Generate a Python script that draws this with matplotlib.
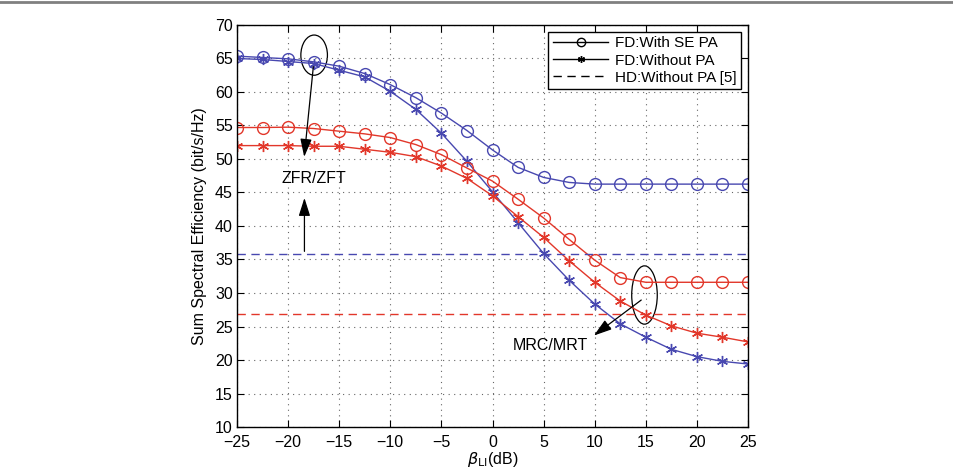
"""Sum spectral efficiency vs beta (MATLAB-style figure)."""
import matplotlib
matplotlib.use('Agg')
import matplotlib.pyplot as plt
from matplotlib.patches import Ellipse
from matplotlib.lines import Line2D

plt.rcParams['font.family'] = ['Liberation Sans', 'DejaVu Sans']

beta_db = [-25, -22.5, -20, -17.5, -15, -12.5, -10, -7.5, -5, -2.5, 0,
           2.5, 5, 7.5, 10, 12.5, 15, 17.5, 20, 22.5, 25]

zf_with_pa = [65.35, 65.15, 64.95, 64.5, 63.85, 62.75, 61.1, 59.15, 56.85, 54.25, 51.35,
              48.75, 47.25, 46.5, 46.25, 46.25, 46.25, 46.25, 46.25, 46.25, 46.25]
zf_without_pa = [65.0, 64.85, 64.55, 64.25, 63.25, 62.25, 60.1, 57.4, 53.85, 49.65, 45.1,
                 40.5, 35.9, 31.9, 28.35, 25.4, 23.4, 21.6, 20.5, 19.8, 19.4]
mr_with_pa = [54.7, 54.7, 54.75, 54.55, 54.15, 53.75, 53.2, 52.15, 50.65, 48.65, 46.7,
              44.0, 41.2, 38.0, 34.9, 32.3, 31.6, 31.6, 31.6, 31.6, 31.6]
mr_without_pa = [52.0, 52.0, 52.0, 51.9, 51.9, 51.45, 51.0, 50.35, 48.95, 47.1, 44.5,
                 41.4, 38.3, 34.8, 31.6, 28.8, 26.7, 25.1, 24.0, 23.4, 22.7]
hd_zf = 35.8
hd_mr = 26.8

xticks = [-25, -20, -15, -10, -5, 0, 5, 10, 15, 20, 25]
yticks = [10, 15, 20, 25, 30, 35, 40, 45, 50, 55, 60, 65, 70]

BLUE = '#4848b0'
RED = '#e2372a'
FS = 11.5

fig = plt.figure(figsize=(9.54, 4.68), dpi=100)
ax = fig.add_axes([0.2484, 0.0876, 0.5357, 0.859])

# top border line of the page
fig.add_artist(Line2D([0, 1], [0.995, 0.995], color='#808080', lw=2.0))

ax.plot(beta_db, zf_with_pa, color=BLUE, lw=1.0, marker='o', ms=8.5,
        mfc='none', mec=BLUE, mew=1.0)
ax.plot(beta_db, zf_without_pa, color=BLUE, lw=1.0, marker=(6, 2, 0), ms=8,
        mec=BLUE, mew=1.0)
ax.plot(beta_db, mr_with_pa, color=RED, lw=1.0, marker='o', ms=8.5,
        mfc='none', mec=RED, mew=1.0)
ax.plot(beta_db, mr_without_pa, color=RED, lw=1.0, marker=(6, 2, 0), ms=8,
        mec=RED, mew=1.0)
ax.axhline(hd_zf, color=BLUE, lw=1.0, ls=(0, (6, 4)))
ax.axhline(hd_mr, color=RED, lw=1.0, ls=(0, (6, 4)))

# legend (black proxies)
handles = [
    Line2D([], [], color='k', lw=1.0, marker='o', ms=6, mfc='none', mew=1.0),
    Line2D([], [], color='k', lw=1.0, marker=(6, 2, 0), ms=5, mew=1.0),
    Line2D([], [], color='k', lw=1.0, ls=(0, (6, 4))),
]
leg = ax.legend(handles, ['FD:With SE PA', 'FD:Without PA', 'HD:Without PA [5]'],
                loc='upper right', fontsize=11, fancybox=False, framealpha=1,
                edgecolor='k', handlelength=3.6, borderpad=0.3,
                labelspacing=0.2, handletextpad=0.45, borderaxespad=0.45)
leg.get_frame().set_linewidth(1.0)

# annotations
head = '-|>,head_length=1.1,head_width=0.35'
ax.add_patch(Ellipse((-17.45, 65.5), 2.6, 6.0, fill=False, ec='k', lw=0.9))
ax.annotate('', xy=(-18.45, 49.9), xytext=(-17.5, 64.2),
            arrowprops=dict(arrowstyle=head, color='k', lw=0.9))
ax.annotate('', xy=(-18.4, 44.6), xytext=(-18.4, 35.8),
            arrowprops=dict(arrowstyle=head, color='k', lw=0.9))
ax.text(-17.45, 47.15, 'ZFR/ZFT', ha='center', va='center', fontsize=FS)

ax.add_patch(Ellipse((14.87, 29.7), 2.5, 8.7, fill=False, ec='k', lw=0.9))
ax.annotate('', xy=(9.7, 23.4), xytext=(14.77, 29.2),
            arrowprops=dict(arrowstyle=head, color='k', lw=0.9))
ax.text(5.66, 22.1, 'MRC/MRT', ha='center', va='center', fontsize=FS)

ax.set_xlim(-25, 25)
ax.set_ylim(10, 70)
ax.set_xticks(xticks)
ax.set_yticks(yticks)
ax.set_xticklabels([str(t).replace('-', '\u2212') for t in xticks])
ax.tick_params(direction='in', top=True, right=True, labelsize=FS,
               length=5, width=0.8)
ax.tick_params(axis='x', pad=6)
ax.tick_params(axis='y', pad=3)
ax.grid(True, ls=(0, (1, 4)), color='#666666', lw=0.8)
for s in ax.spines.values():
    s.set_linewidth(1.0)

ax.set_ylabel('Sum Spectral Efficiency (bit/s/Hz)', fontsize=FS, labelpad=6)
ax.set_xlabel(r'$\beta_{\mathrm{LI}}$(dB)', fontsize=FS, labelpad=0)

fig.savefig('out.png', dpi=100)
plt.close(fig)
